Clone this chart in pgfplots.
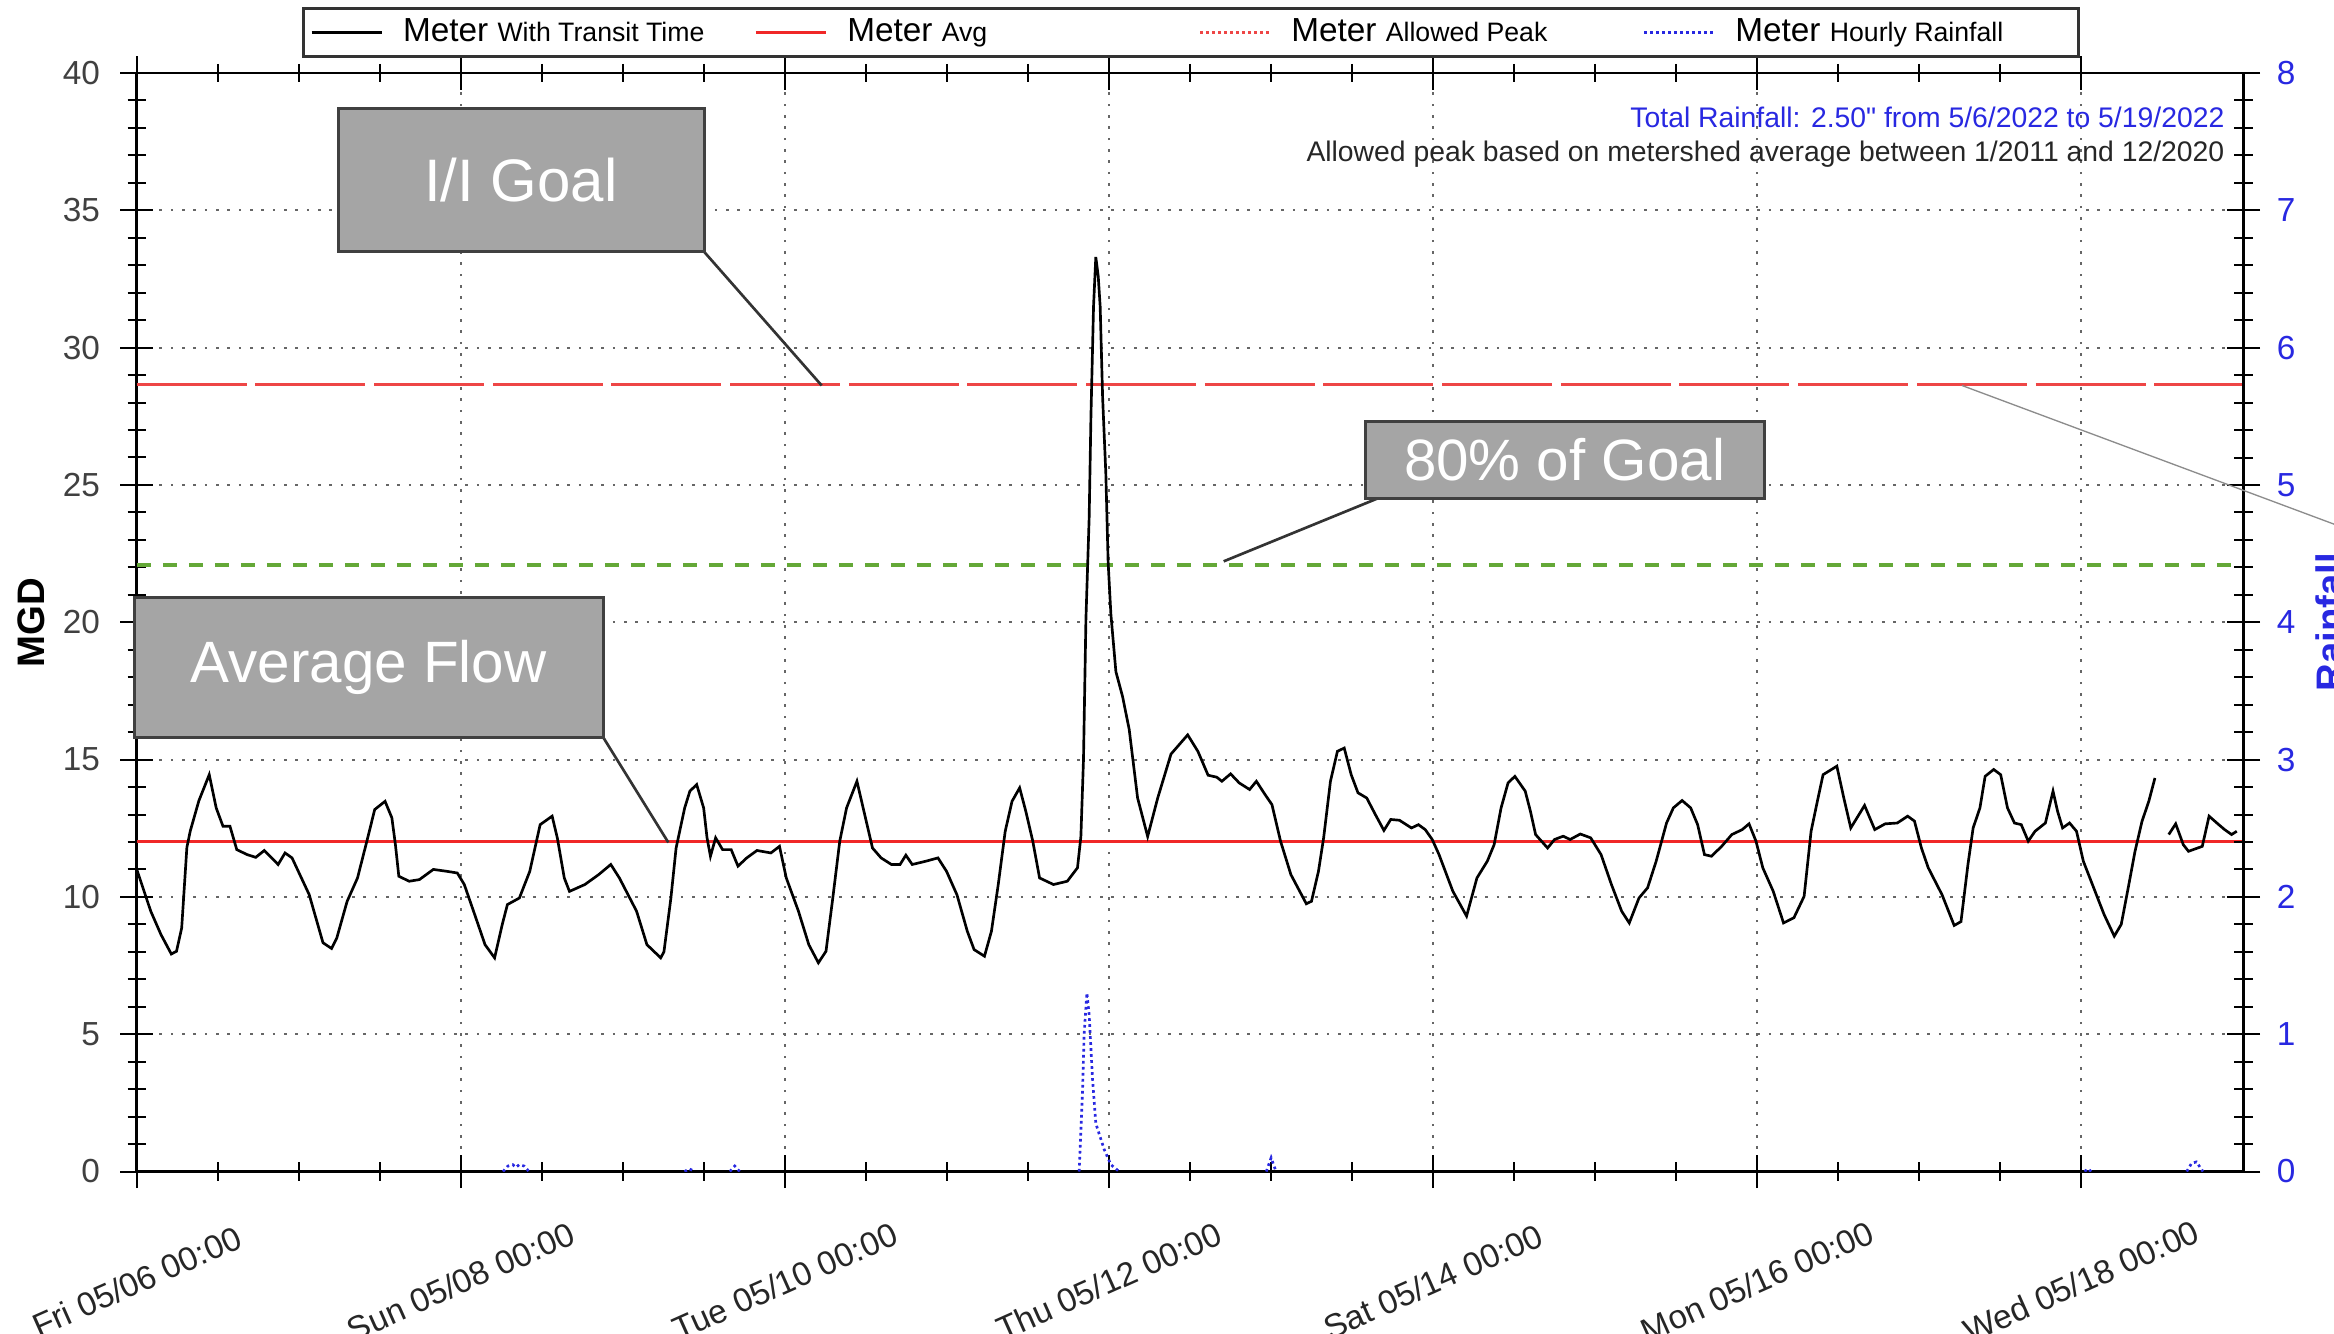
\documentclass[border=0pt]{standalone}
\usepackage{fontspec}
\setmainfont{Liberation Sans}
\newfontfamily\plainfont{Liberation Sans}[Ligatures=TeXOff]
\usepackage{pgfplots}
\pgfplotsset{compat=1.18}
\definecolor{peakred}{RGB}{238,70,70}
\definecolor{avgred}{RGB}{240,40,40}
\definecolor{goalgreen}{RGB}{100,168,55}
\definecolor{rainblue}{RGB}{40,40,225}
\definecolor{boxgray}{RGB}{165,165,165}
\definecolor{boxedge}{RGB}{64,64,64}

\pgfplotstableread{
x y
0.000 11.0
0.086 9.48
0.149 8.63
0.213 7.92
0.245 8.02
0.277 8.87
0.309 11.8
0.330 12.4
0.383 13.5
0.447 14.45
0.490 13.24
0.532 12.57
0.575 12.57
0.617 11.72
0.681 11.54
0.734 11.44
0.787 11.69
0.872 11.18
0.915 11.6
0.958 11.42
1.064 10.08
1.149 8.33
1.202 8.12
1.234 8.5
1.298 9.84
1.362 10.69
1.425 12.15
1.468 13.18
1.532 13.48
1.574 12.88
1.596 11.9
1.617 10.75
1.681 10.57
1.744 10.63
1.830 11.0
1.915 10.93
1.978 10.87
2.021 10.45
2.085 9.36
2.149 8.26
2.208 7.78
2.255 8.99
2.287 9.72
2.361 9.96
2.425 10.93
2.489 12.63
2.563 12.94
2.595 12.15
2.638 10.69
2.670 10.2
2.765 10.45
2.850 10.81
2.925 11.18
2.978 10.69
3.084 9.48
3.148 8.26
3.233 7.78
3.253 8.0
3.296 9.96
3.328 11.78
3.381 13.24
3.413 13.85
3.455 14.09
3.498 13.24
3.519 12.15
3.540 11.48
3.572 12.15
3.615 11.72
3.668 11.72
3.710 11.12
3.764 11.42
3.827 11.69
3.913 11.6
3.966 11.84
4.008 10.69
4.083 9.48
4.147 8.26
4.206 7.6
4.253 8.02
4.295 9.96
4.338 12.03
4.380 13.24
4.444 14.21
4.487 13.12
4.540 11.78
4.593 11.42
4.657 11.18
4.710 11.18
4.746 11.52
4.785 11.18
4.870 11.3
4.944 11.42
4.997 10.93
5.061 10.08
5.125 8.75
5.167 8.08
5.231 7.84
5.274 8.75
5.316 10.45
5.359 12.39
5.401 13.48
5.448 13.97
5.486 13.12
5.529 12.03
5.571 10.69
5.657 10.45
5.742 10.57
5.805 11.06
5.826 12.2
5.842 15.0
5.857 20.1
5.877 23.8
5.888 27.5
5.904 31.5
5.918 33.3
5.933 32.6
5.945 31.5
5.960 28.2
5.980 25.4
5.994 22.2
6.011 20.3
6.042 18.2
6.083 17.3
6.124 16.1
6.176 13.6
6.238 12.2
6.300 13.6
6.382 15.2
6.485 15.9
6.548 15.3
6.611 14.43
6.664 14.36
6.696 14.21
6.750 14.48
6.803 14.15
6.867 13.91
6.909 14.21
6.962 13.73
7.005 13.36
7.058 12.03
7.122 10.81
7.217 9.75
7.249 9.84
7.292 10.93
7.324 12.15
7.366 14.21
7.409 15.3
7.451 15.42
7.494 14.45
7.536 13.79
7.590 13.6
7.643 13.0
7.696 12.42
7.738 12.82
7.792 12.79
7.866 12.51
7.909 12.63
7.951 12.45
7.994 12.09
8.036 11.54
8.121 10.21
8.206 9.3
8.270 10.69
8.334 11.3
8.376 11.9
8.419 13.24
8.462 14.15
8.504 14.39
8.568 13.85
8.600 13.12
8.632 12.27
8.706 11.78
8.749 12.09
8.802 12.21
8.845 12.09
8.908 12.29
8.972 12.15
9.036 11.54
9.100 10.45
9.163 9.48
9.210 9.05
9.270 9.96
9.323 10.33
9.376 11.3
9.440 12.69
9.482 13.24
9.536 13.51
9.589 13.24
9.632 12.63
9.674 11.54
9.717 11.48
9.780 11.84
9.843 12.27
9.907 12.45
9.949 12.66
9.992 12.03
10.034 11.06
10.098 10.21
10.162 9.05
10.226 9.24
10.289 10.02
10.332 12.39
10.375 13.6
10.406 14.45
10.491 14.76
10.534 13.6
10.577 12.51
10.662 13.33
10.725 12.45
10.789 12.66
10.864 12.69
10.928 12.94
10.970 12.76
11.013 11.78
11.055 11.06
11.140 10.08
11.215 8.96
11.257 9.1
11.300 11.18
11.332 12.51
11.374 13.24
11.406 14.39
11.459 14.64
11.502 14.45
11.544 13.24
11.587 12.69
11.629 12.63
11.672 12.03
11.714 12.39
11.778 12.69
11.825 13.85
11.853 13.12
11.884 12.51
11.927 12.69
11.970 12.39
12.012 11.3
12.076 10.33
12.140 9.36
12.203 8.57
12.246 9.0
12.289 10.33
12.331 11.66
12.374 12.75
12.416 13.48
12.454 14.33
nan nan
12.539 12.27
12.582 12.66
12.629 11.9
12.661 11.66
12.746 11.84
12.788 12.94
12.842 12.66
12.884 12.45
12.927 12.27
12.959 12.39
}\meterdata

\pgfplotstableread{
x y
2.26 0
2.29 0.04
2.32 0.05
2.34 0.03
2.36 0.05
2.39 0.04
2.42 0
nan nan
3.38 0
3.41 0.02
3.44 0
nan nan
3.66 0
3.69 0.04
3.72 0
nan nan
5.815 0
5.836 0.58
5.846 1.0
5.863 1.3
5.877 1.14
5.898 0.67
5.918 0.35
5.970 0.16
6.011 0.05
6.062 0
nan nan
6.97 0
7.00 0.1
7.03 0
nan nan
12.02 0
12.04 0.02
12.06 0
nan nan
12.65 0
12.68 0.06
12.71 0.07
12.75 0
}\raindata

\begin{document}
\begin{tikzpicture}
\useasboundingbox (0pt,0pt) rectangle (700.2pt,399.9pt);
\begin{axis}[
  at={(41.04pt,48.45pt)}, anchor=south west,
  scale only axis, width=631.98pt, height=329.55pt,
  xmin=0, xmax=13, ymin=0, ymax=40,
  xtick={0,2,...,12},
  xticklabels={Fri 05/06 00:00, Sun 05/08 00:00, Tue 05/10 00:00, Thu 05/12 00:00, Sat 05/14 00:00, Mon 05/16 00:00, Wed 05/18 00:00},
  minor x tick num=3,
  ytick={0,5,...,40}, minor y tick num=4,
  ytick pos=left,
  tick align=center,
  major tick length=10pt, minor tick length=5.5pt,
  axis line style={black, line width=0.8pt},
  every tick/.style={black, line width=0.6pt},
  grid=major,
  major grid style={black!60, line width=0.6pt, dash pattern=on 0.8pt off 2.6pt},
  xticklabel style={font=\fontsize{10}{12}\selectfont, text=black!85, anchor=center, yshift=-28pt, rotate=24},
  yticklabel style={font=\fontsize{10}{12}\selectfont, text=black!75, xshift=-2.5pt},
  /pgf/number format/assume math mode=true,
  unbounded coords=jump,
  legend image code/.code={\draw[#1] (0pt,0pt) -- (21pt,0pt);},
  legend columns=4,
  legend cell align=left,
  legend style={at={(0.0786,1.0598)}, anchor=north west, draw=black!80, line width=0.8pt,
    inner xsep=2pt, inner ysep=1pt, font=\fontsize{10}{12}\selectfont,
    /tikz/every even column/.append style={column sep=0pt},
    /tikz/every odd column/.append style={column sep=0pt}},
]
\addplot[peakred, line width=0.9pt, dash pattern=on 33pt off 2.6pt, forget plot] coordinates {(0,28.65) (13,28.65)};
\addplot[goalgreen, line width=1.2pt, dash pattern=on 4.4pt off 3.4pt, forget plot] coordinates {(0,22.1) (13,22.1)};
\addplot[avgred, line width=0.9pt, forget plot] coordinates {(0,12.0) (13,12.0)};
\addplot[black, line width=0.8pt, forget plot] table[x=x, y=y] {\meterdata};
\addlegendimage{black, line width=0.8pt}
\addlegendentry{\makebox[107.4pt][l]{\hspace{4pt}Meter {\fontsize{8}{9.6}\selectfont With Transit Time}}}
\addlegendimage{avgred, line width=0.9pt}
\addlegendentry{\makebox[107.4pt][l]{\hspace{4pt}Meter {\fontsize{8}{9.6}\selectfont Avg}}}
\addlegendimage{peakred, line width=0.8pt, densely dotted}
\addlegendentry{\makebox[107.4pt][l]{\hspace{4pt}Meter {\fontsize{8}{9.6}\selectfont Allowed Peak}}}
\addlegendimage{rainblue, line width=0.8pt, densely dotted}
\addlegendentry{\makebox[102.9pt][l]{\hspace{4pt}Meter {\fontsize{8}{9.6}\selectfont Hourly Rainfall}}}
\end{axis}
\begin{axis}[
  at={(41.04pt,48.45pt)}, anchor=south west,
  scale only axis, width=631.98pt, height=329.55pt,
  xmin=0, xmax=13, ymin=0, ymax=8,
  axis x line=none, axis y line*=right,
  ytick={0,1,...,8}, minor y tick num=4,
  tick align=center,
  major tick length=10pt, minor tick length=5.5pt,
  axis line style={black, line width=0.8pt},
  every tick/.style={black, line width=0.6pt},
  yticklabel style={font=\fontsize{10}{12}\selectfont, text=rainblue, xshift=1.5pt},
  /pgf/number format/assume math mode=true,
  unbounded coords=jump,
]
\addplot[rainblue, line width=0.8pt, densely dotted] table[x=x, y=y] {\raindata};
\end{axis}
% annotations
\node[anchor=base east, inner sep=0pt, text=rainblue, font=\fontsize{8.5}{10}\selectfont] at (667.5pt,361.5pt) {Total Rainfall: 2.50{\plainfont "} from 5/6/2022 to 5/19/2022};
\node[anchor=base east, inner sep=0pt, text=black!85, font=\fontsize{8.5}{10}\selectfont] at (667.5pt,351.3pt) {Allowed peak based on metershed average between 1/2011 and 12/2020};
% axis titles
\node[rotate=90, font=\bfseries\fontsize{11.5}{13}\selectfont, inner sep=0pt] at (9.5pt,213.2pt) {MGD};
\node[rotate=90, anchor=north, font=\bfseries\fontsize{11.5}{13}\selectfont, text=rainblue, inner sep=0pt] at (694.5pt,213.2pt) {Rainfall};
% callouts
\draw[black!80, line width=0.8pt] (211.2pt,324.4pt) -- (246.5pt,284.25pt);
\draw[black!80, line width=0.8pt] (413.1pt,250.3pt) -- (367.1pt,231.5pt);
\draw[black!80, line width=0.8pt] (180.9pt,178.8pt) -- (200.5pt,147.15pt);
\draw[black!45, line width=0.4pt] (588.6pt,284.25pt) -- (710pt,239pt);
\draw[fill=boxgray, draw=boxedge, line width=0.9pt] (101.4pt,324.4pt) rectangle (211.2pt,367.3pt);
\node[text=white, font=\fontsize{18}{20}\selectfont] at (156.3pt,345.85pt) {I/I Goal};
\draw[fill=boxgray, draw=boxedge, line width=0.9pt] (409.5pt,250.3pt) rectangle (529.2pt,273.6pt);
\node[text=white, font=\fontsize{17.5}{20}\selectfont] at (469.35pt,261.95pt) {80\% of Goal};
\draw[fill=boxgray, draw=boxedge, line width=0.9pt] (40.2pt,178.8pt) rectangle (180.9pt,220.8pt);
\node[text=white, font=\fontsize{17.5}{20}\selectfont] at (110.55pt,199.8pt) {Average Flow};
\end{tikzpicture}
\end{document}
